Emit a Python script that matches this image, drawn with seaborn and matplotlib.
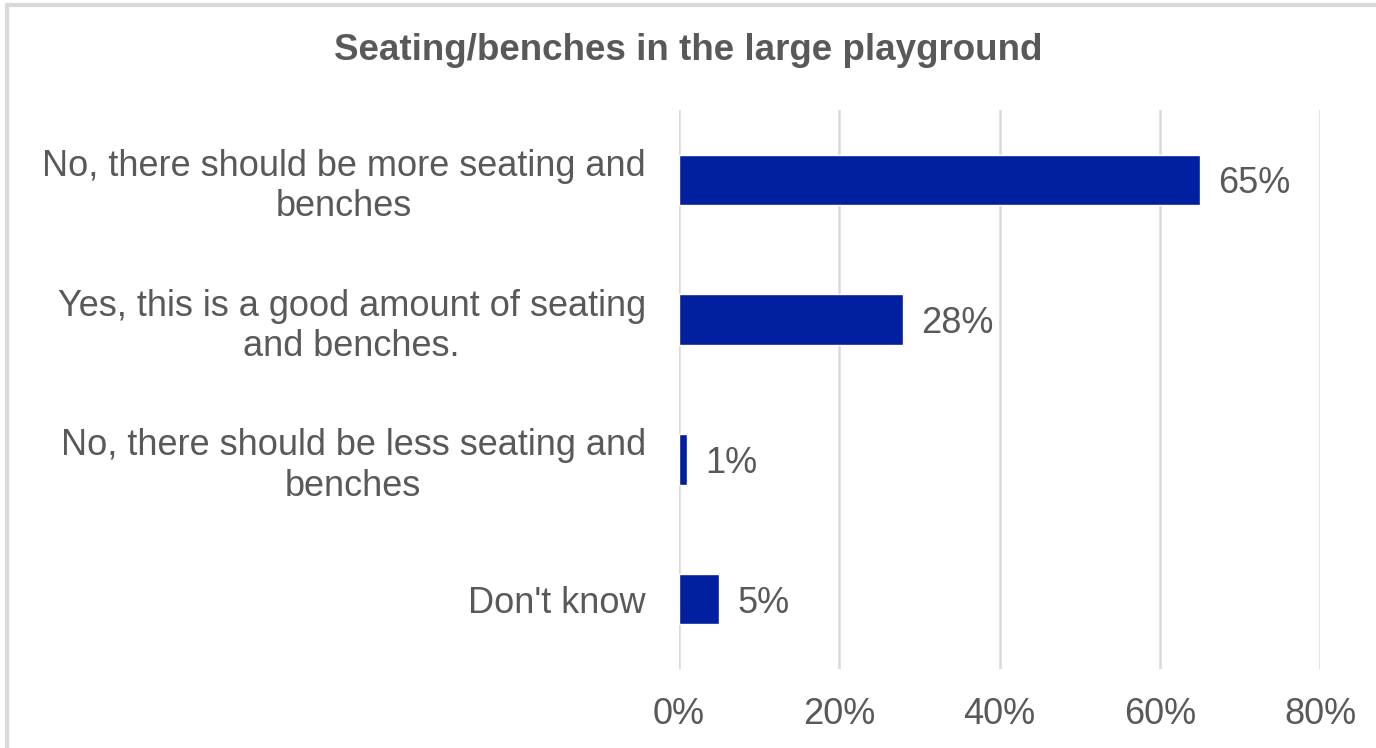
import matplotlib
matplotlib.use("Agg")
import matplotlib.pyplot as plt
import matplotlib.patches as mpatches
import seaborn as sns
import pandas as pd

categories = [
    "No, there should be more seating and\nbenches",
    "Yes, this is a good amount of seating\nand benches.",
    "No, there should be less seating and\nbenches",
    "Don't know",
]
values = [65, 28, 1, 5]
xticks = [0, 20, 40, 60, 80]
xtick_labels = ["0%", "20%", "40%", "60%", "80%"]
title = "Seating/benches in the large playground"

sns.set_theme(style="white")
plt.rcParams["font.family"] = ["Liberation Sans", "DejaVu Sans"]

TEXT = "#595959"
BAR = "#0020A0"
GRID = "#D9D9D9"

df = pd.DataFrame({"category": categories, "value": values})

fig = plt.figure(figsize=(13.76, 7.48), dpi=100)
ax = fig.add_axes([679/1376, 1 - 669/748, (1320-679)/1376, (669-110)/748])

sns.barplot(data=df, x="value", y="category", orient="h", color=BAR,
            width=0.36, saturation=1, ax=ax)

ax.set_xlim(0, 80)
ax.set_ylim(3.5, -0.5)
ax.set_xticks(xticks)
ax.set_xticklabels(xtick_labels)
ax.set_xlabel("")
ax.set_ylabel("")
ax.grid(axis="x", color=GRID, linewidth=1.8)
ax.grid(axis="y", visible=False)
ax.set_axisbelow(True)
for s in ax.spines.values():
    s.set_visible(False)

ax.tick_params(axis="x", length=0, pad=20, labelsize=26, labelcolor=TEXT)
ax.tick_params(axis="y", length=0, pad=24, labelsize=26, labelcolor=TEXT)
for lab in ax.get_yticklabels():
    lab.set_multialignment("center")
    lab.set_linespacing(1.2)

for cont in ax.containers:
    texts = ax.bar_label(cont, labels=[f"{v}%" for v in values], padding=13,
                         fontsize=26, color=TEXT)
    for t in texts:
        t.set_va("center_baseline")

fig.text(0.5, 1 - 50/748, title, ha="center", va="center",
         fontsize=26.5, fontweight="bold", color=TEXT)

# screenshot frame (top and left edges)
fig.patches.append(mpatches.Rectangle((7/1376, -0.1), 1.2, 1 - 5/748 + 0.1,
                                      transform=fig.transFigure, fill=False,
                                      edgecolor="#D9D9D9", linewidth=3))

fig.savefig("out.png", dpi=100)
